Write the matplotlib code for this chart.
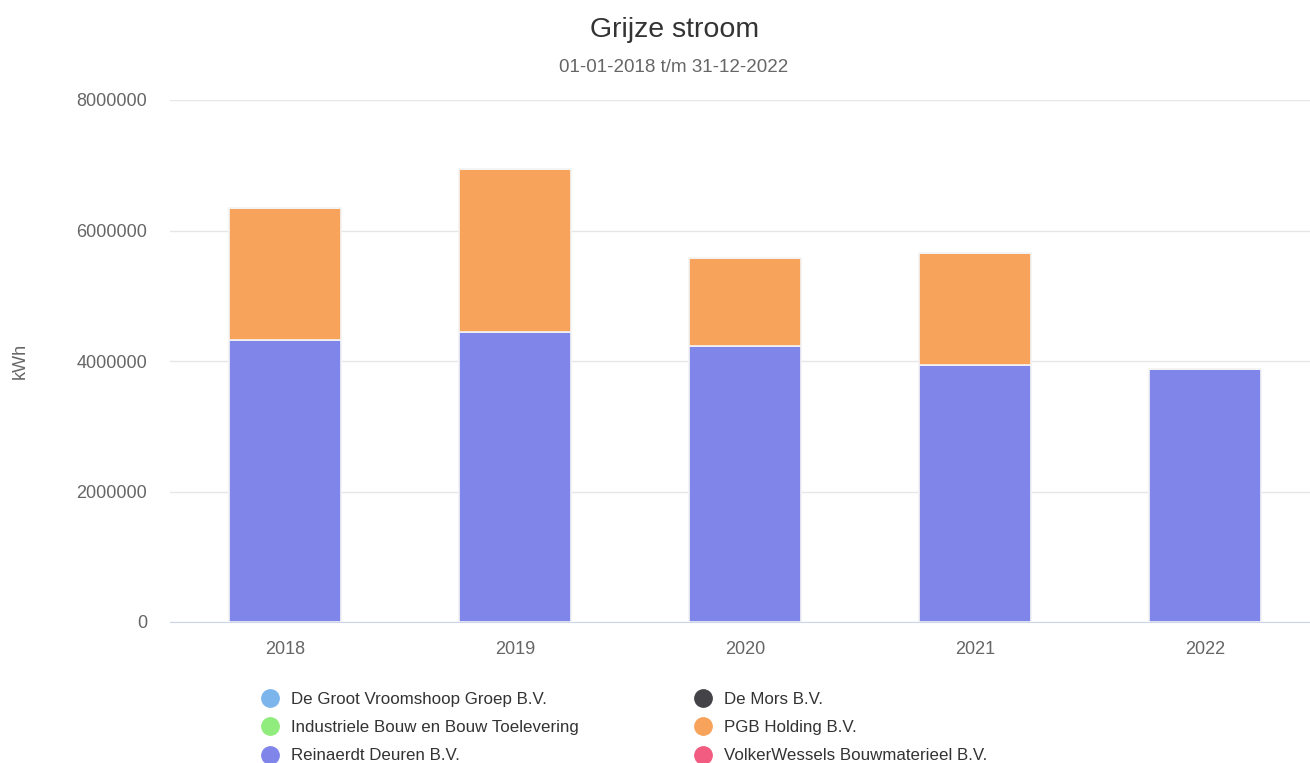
import numpy as np
import matplotlib.pyplot as plt
from matplotlib.lines import Line2D

plt.rcParams['font.family'] = ['Liberation Sans', 'DejaVu Sans']

# Data (kWh)
years = ['2018', '2019', '2020', '2021', '2022']
series_names = [
    'De Groot Vroomshoop Groep B.V.',
    'De Mors B.V.',
    'Industriele Bouw en Bouw Toelevering',
    'PGB Holding B.V.',
    'Reinaerdt Deuren B.V.',
    'VolkerWessels Bouwmaterieel B.V.',
]
de_groot = [0, 0, 0, 0, 0]
de_mors = [0, 0, 0, 0, 0]
industriele = [0, 0, 0, 0, 0]
pgb = [2020000, 2500000, 1350000, 1715000, 0]
reinaerdt = [4320000, 4445000, 4230000, 3940000, 3880000]
volkerwessels = [0, 0, 0, 0, 0]

colors = {
    'De Groot Vroomshoop Groep B.V.': '#7cb5ec',
    'De Mors B.V.': '#434348',
    'Industriele Bouw en Bouw Toelevering': '#90ed7d',
    'PGB Holding B.V.': '#f7a35c',
    'Reinaerdt Deuren B.V.': '#8085e9',
    'VolkerWessels Bouwmaterieel B.V.': '#f15c80',
}

# stacking order, bottom to top (Highcharts stacks last series at bottom)
stack = [
    ('Reinaerdt Deuren B.V.', reinaerdt),
    ('PGB Holding B.V.', pgb),
    ('VolkerWessels Bouwmaterieel B.V.', volkerwessels),
    ('Industriele Bouw en Bouw Toelevering', industriele),
    ('De Mors B.V.', de_mors),
    ('De Groot Vroomshoop Groep B.V.', de_groot),
]

fig = plt.figure(figsize=(13.1, 7.63), dpi=100)
# plot area runs a little past the right edge, like the original
ax = fig.add_axes([170 / 1310, 141 / 763, 1150 / 1310, 522 / 763])

x = np.arange(len(years))
bottom = np.zeros(len(years))
for name, vals in stack:
    vals = np.array(vals, dtype=float)
    ax.bar(x, vals, bottom=bottom, width=0.485, color=colors[name],
           edgecolor='#f4f4f4', linewidth=1.2, zorder=3)
    bottom += vals

ax.set_xlim(-0.5, len(years) - 0.5)
ax.set_ylim(0, 8000000)
ax.set_yticks([0, 2000000, 4000000, 6000000, 8000000])
ax.set_yticklabels(['0', '2000000', '4000000', '6000000', '8000000'])
ax.set_xticks(x)
ax.set_xticklabels(years)
ax.tick_params(axis='y', length=0, pad=16.5, labelsize=13, labelcolor='#666666')
ax.tick_params(axis='x', length=0, pad=14, labelsize=13, labelcolor='#666666')
ax.grid(axis='y', color='#e6e6e6', linewidth=1, zorder=0)
for s in ('top', 'right', 'left'):
    ax.spines[s].set_visible(False)
ax.spines['bottom'].set_color('#ccd6eb')
ax.spines['bottom'].set_zorder(4)

fig.text(20 / 1310, 1 - 361 / 763, 'kWh', rotation=90, ha='center',
         va='center', fontsize=13, color='#666666')

fig.text(675 / 1310, 1 - 30 / 763, 'Grijze stroom', ha='center',
         va='center', fontsize=20.5, color='#333333')
fig.text(674 / 1310, 1 - 68 / 763, '01-01-2018 t/m 31-12-2022',
         ha='center', va='center', fontsize=13.5, color='#666666')

# legend, two columns laid out row-wise like the original
def handle(name):
    return Line2D([], [], marker='o', linestyle='none', markersize=12.5,
                  markerfacecolor=colors[name], markeredgecolor=colors[name])

col1 = [series_names[0], series_names[2], series_names[4]]
col2 = [series_names[1], series_names[3], series_names[5]]
for names, x0 in ((col1, 262), (col2, 695)):
    leg = fig.legend([handle(n) for n in names], names,
                     loc='upper left', bbox_to_anchor=(x0 / 1310, 1 - 692 / 763),
                     frameon=False, fontsize=12.2, handlelength=1.0,
                     handletextpad=0.72, labelspacing=0.78, borderpad=0,
                     borderaxespad=0)
    for t in leg.get_texts():
        t.set_color('#333333')

fig.savefig('out.png', dpi=100, facecolor='white')
